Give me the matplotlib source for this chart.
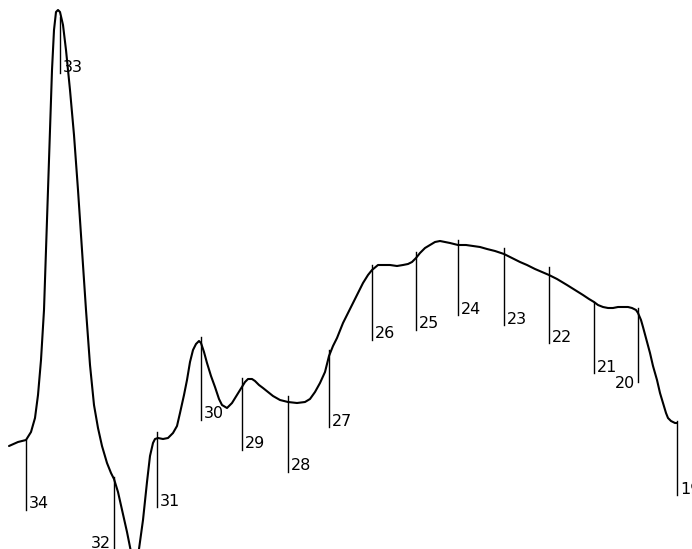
import matplotlib
matplotlib.use('Agg')
import matplotlib.pyplot as plt

# recorder trace: chart position along the paper and pen position (measured downward)
trace_x = [9, 18, 26, 31, 35, 38, 41, 44, 46, 48, 50, 52, 54, 56, 58, 60, 63, 66, 70, 74,
           78, 82, 86, 90, 94, 98, 102, 107, 111, 114, 118, 123, 127, 131, 135,
           139, 143, 147, 150, 153, 155, 158, 163, 168, 173, 177, 180, 184, 187, 190,
           193, 196, 199, 201, 204, 207, 211, 215, 219, 222, 227, 232, 237, 242, 245,
           248, 252, 255, 259, 263, 268, 273, 280, 288, 297, 305, 310, 315, 320, 325,
           329, 333, 337, 343, 348, 353, 358, 363, 368, 372, 378, 384, 390, 397, 403,
           408, 412, 416, 420, 425, 430, 435, 440, 445, 450, 458, 466, 473, 480, 487,
           495, 504, 512, 520, 527, 535, 542, 549, 557, 567, 575, 583, 589, 594, 598,
           603, 608, 613, 618, 623, 628, 632, 636, 638, 641, 643, 646, 650, 653, 657,
           660, 663, 666, 668, 671, 675, 677]
trace_y = [446, 442, 440, 432, 418, 395, 360, 310, 250, 190, 130, 70, 30, 12, 10, 12, 25, 50, 90, 135,
           190, 250, 310, 365, 405, 428, 446, 463, 473, 479, 492, 514, 532, 552, 570,
           549, 520, 482, 456, 443, 439, 438, 439, 438, 433, 426, 413, 395, 380, 362,
           350, 344, 341, 343, 352, 363, 376, 387, 399, 405, 408, 403, 395, 387, 382,
           379, 379, 381, 385, 388, 392, 396, 400, 402, 403, 402, 399, 392, 383, 372,
           356, 346, 338, 323, 313, 303, 293, 283, 275, 270, 265, 265, 265, 266, 265,
           264, 262, 258, 253, 248, 245, 242, 241, 242, 243, 245, 245, 246, 247, 249,
           251, 254, 258, 262, 265, 269, 272, 275, 279, 285, 290, 295, 299, 302, 305,
           307, 308, 308, 307, 307, 307, 308, 310, 313, 320, 327, 338, 353, 366, 380,
           393, 403, 413, 418, 421, 423, 423]

# fraction cut marks
fraction_no = [34, 33, 32, 31, 30, 29, 28, 27, 26, 25, 24, 23, 22, 21, 20, 19]
mark_x = [26, 60, 114, 157, 201, 242, 288, 329, 372, 416, 458, 504, 549, 594, 638, 677]
mark_top = [440, 17, 477, 432, 337, 378, 396, 350, 265, 252, 240, 248, 267, 302, 308, 421]
mark_bottom = [510, 73, 549, 507, 420, 450, 472, 427, 340, 330, 315, 325, 343, 373, 382, 495]
label_left = [32, 20]   # these numbers sit on the left of their mark

fig = plt.figure(figsize=(6.92, 5.49), dpi=100)
ax = fig.add_axes([0, 0, 1, 1])
ax.set_xlim(0, 692)
ax.set_ylim(549, 0)
ax.axis('off')

ax.plot(trace_x, trace_y, color='black', lw=1.5, solid_capstyle='round',
        solid_joinstyle='round')

for n, x, top, bot in zip(fraction_no, mark_x, mark_top, mark_bottom):
    ax.plot([x, x], [top, bot], color='black', lw=1.0)
    if n in label_left:
        # 20 hangs a little below the end of its mark
        dy = 1 if n == 20 else -6
        ax.text(x - 3, bot + dy, str(n), ha='right', va='center', fontsize=11.5,
                color='black')
    else:
        ax.text(x + 3, bot - 6, str(n), ha='left', va='center', fontsize=11.5,
                color='black')

fig.savefig('out.png', dpi=100, facecolor='white')
